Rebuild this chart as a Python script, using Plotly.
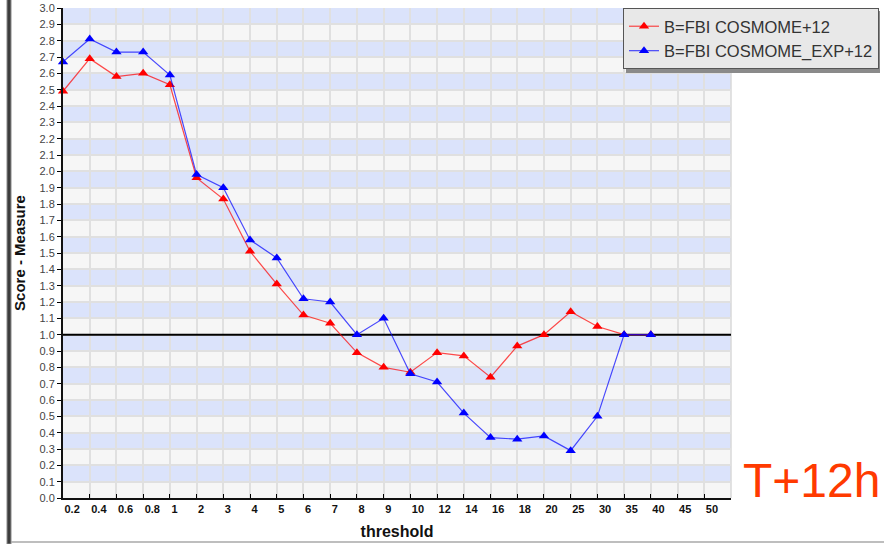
import plotly.graph_objects as go

# Threshold classes on the category axis
thresholds = ["0.2", "0.4", "0.6", "0.8", "1", "2", "3", "4", "5", "6", "7", "8", "9",
              "10", "12", "14", "16", "18", "20", "25", "30", "35", "40", "45", "50"]

# Score values per threshold (missing classes at the end are simply not plotted)
cosmome = [2.49, 2.69, 2.58, 2.60, 2.53, 1.96, 1.83, 1.51, 1.31, 1.12, 1.07, 0.89, 0.80,
           0.77, 0.89, 0.87, 0.74, 0.93, 1.00, 1.14, 1.05, 1.00, 1.00]
cosmome_exp = [2.67, 2.81, 2.73, 2.73, 2.59, 1.98, 1.90, 1.58, 1.47, 1.22, 1.20, 1.00, 1.10,
               0.76, 0.71, 0.52, 0.37, 0.36, 0.38, 0.29, 0.50, 1.00, 1.00]
series_names = ["B=FBI COSMOME+12", "B=FBI COSMOME_EXP+12"]

reference_score = 1.0
y_max = 3.0
y_step = 0.1

W, H = 884, 544
ML, MR, MT, MB = 63, 153, 8, 46
PW, PH = W - ML - MR, H - MT - MB


def px(xp):
    return (xp - ML) / PW


def py(yp):
    return (H - MB - yp) / PH


FONT = "Liberation Sans, Arial, sans-serif"

fig = go.Figure()

# perfect-score reference line, drawn underneath the series
fig.add_trace(go.Scatter(
    x=[0, len(thresholds)], y=[reference_score, reference_score],
    mode="lines", line=dict(color="#000000", width=2),
    showlegend=False, hoverinfo="skip",
))

series = [(series_names[0], cosmome, "#ff0000", "rgba(255,0,0,0.7)"),
          (series_names[1], cosmome_exp, "#0000ff", "rgba(0,0,255,0.7)")]
for name, vals, mcol, lcol in series:
    fig.add_trace(go.Scatter(
        x=list(range(len(vals))), y=vals, name=name,
        mode="lines+markers",
        line=dict(color=lcol, width=1.2),
        marker=dict(symbol="triangle-up", size=9, color=mcol),
        cliponaxis=False,
    ))

shapes = []
# alternating horizontal bands
n_bands = int(round(y_max / y_step))
for k in range(n_bands):
    if k % 2 == 1:
        shapes.append(dict(type="rect", xref="paper", yref="y", x0=0, x1=1,
                           y0=k * y_step, y1=(k + 1) * y_step,
                           fillcolor="#dbe3fb", line=dict(width=0), layer="below"))
# right border of the plot area
shapes.append(dict(type="line", xref="paper", yref="paper", x0=1, x1=1, y0=0, y1=1,
                   line=dict(color="#d8d8d8", width=1.5), layer="below"))
# legend shadow
LEG_L, LEG_T = 623, 8
shapes.append(dict(type="rect", xref="paper", yref="paper",
                   x0=px(LEG_L + 3), x1=px(LEG_L + 257), y0=py(LEG_T + 65), y1=py(LEG_T + 3),
                   fillcolor="#8a8a8a", line=dict(width=0), layer="above"))
# window frame: left bar and bottom line
shapes.append(dict(type="rect", xref="paper", yref="paper",
                   x0=px(7), x1=px(11), y0=py(544), y1=py(-2),
                   fillcolor="#3c3c3c", line=dict(color="#8a8a8a", width=1), layer="above"))
shapes.append(dict(type="line", xref="paper", yref="paper",
                   x0=px(11), x1=px(884), y0=py(542), y1=py(542),
                   line=dict(color="#a8a8a8", width=1.5), layer="above"))

fig.update_layout(
    width=W, height=H,
    margin=dict(l=ML, r=MR, t=MT, b=MB, pad=0, autoexpand=False),
    paper_bgcolor="#ffffff",
    plot_bgcolor="#f6f6f6",
    font=dict(family=FONT, color="#333333"),
    shapes=shapes,
    showlegend=True,
    legend=dict(
        x=px(LEG_L), y=py(LEG_T), xanchor="left", yanchor="top",
        bgcolor="#e8e8e8", bordercolor="#555555", borderwidth=1,
        font=dict(family=FONT, size=16.5, color="#333333"),
    ),
    xaxis=dict(
        range=[0, len(thresholds)],
        tickmode="array",
        tickvals=list(range(len(thresholds) + 1)),
        ticktext=thresholds + [""],
        ticks="inside", ticklen=4, tickcolor="#000000", tickwidth=1,
        ticklabelposition="outside right",
        tickfont=dict(family=FONT, size=11, color="#111111", weight="bold"),
        showgrid=True, gridcolor="#e0e0e0", gridwidth=1.5,
        showline=True, linecolor="#111111", linewidth=2,
        zeroline=False,
        title=dict(text="threshold", standoff=12,
                   font=dict(family=FONT, size=16, color="#111111", weight="bold")),
    ),
    yaxis=dict(
        range=[0, y_max],
        tickmode="linear", tick0=0, dtick=y_step, tickformat=".1f",
        ticks="outside", ticklen=4, tickcolor="#000000", tickwidth=1,
        tickfont=dict(family=FONT, size=11, color="#444444"),
        showgrid=True, gridcolor="#e0e0e0", gridwidth=1.5,
        showline=True, linecolor="#111111", linewidth=2,
        zeroline=False,
        title=dict(text="Score - Measure", standoff=10,
                   font=dict(family=FONT, size=15, color="#111111", weight="bold")),
    ),
    annotations=[dict(
        text="T+12h", xref="paper", yref="paper",
        x=px(741), y=py(480), xanchor="left", yanchor="middle",
        showarrow=False, font=dict(family=FONT, size=48, color="#ff3a00"),
    )],
)

fig.write_html("out.html")
